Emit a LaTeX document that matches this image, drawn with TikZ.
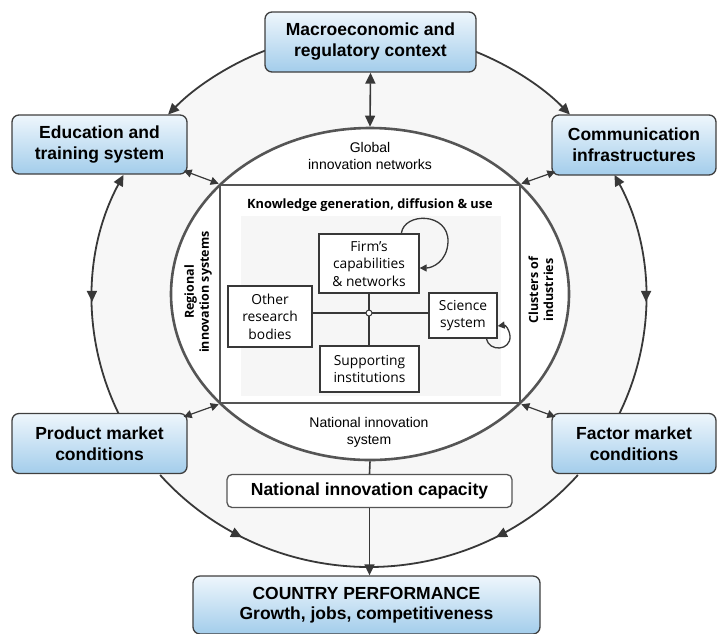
\documentclass[tikz,border=0pt]{standalone}
\usepackage{fontspec}
\setmainfont{Open Sans}
\newfontfamily\boxfont{Liberation Sans}
\usetikzlibrary{arrows.meta,decorations.markings,shapes.geometric}
\definecolor{boxtop}{HTML}{EEF6FC}
\definecolor{boxbot}{HTML}{A3CDEB}
\definecolor{boxline}{HTML}{3F3F3F}
\definecolor{ringc}{HTML}{383838}
\definecolor{framec}{HTML}{555555}
\definecolor{bgc}{HTML}{F7F7F7}
\definecolor{faintc}{HTML}{F6F6F6}
\newcommand\ringarc[3][]{\draw[ringline,#1] ([shift={(#2:277 and 268)}]C) arc[start angle=#2, end angle=#3, x radius=277, y radius=268];}
\begin{document}
\begin{tikzpicture}[x=1pt,y=1pt,
  outerbox/.style={draw=boxline, line width=1.3pt, rounded corners=7pt, top color=boxtop, bottom color=boxbot, align=center, inner sep=0pt, font=\boxfont\bfseries\fontsize{17.5}{21}\selectfont},
  inbox/.style={draw=ringc, line width=1.3pt, fill=white, align=center, inner sep=0pt, font=\fontsize{13.8}{17.5}\selectfont},
  ringline/.style={draw=ringc, line width=1.8pt},
  bigtip/.tip={Triangle[length=11pt,width=10pt]},
  smalltip/.tip={Triangle[length=8pt,width=8pt]},
  midtip/.style={postaction={decorate}, decoration={markings, mark=at position #1 with {\arrow{bigtip}}}},
  label/.style={align=center, inner sep=0pt},
]
\useasboundingbox (0,0) rectangle (717,-633);
\coordinate (C) at (369,-299);
% ring background
\fill[bgc] (C) ellipse[x radius=277, y radius=268];
% ring arcs
\ringarc[-bigtip]{112.05}{136.5}
\ringarc[-bigtip]{67.95}{43.5}
\ringarc[bigtip-, midtip=0.53]{152.4}{205.65}
\ringarc[bigtip-, midtip=0.53]{27.6}{-25.65}
\ringarc[midtip=0.44]{221.05}{270}
\ringarc[midtip=0.44]{-41.05}{-90}
% national innovation system ellipse
\node[ellipse, draw=framec, line width=2.6pt, fill=white, minimum width=398, minimum height=332, inner sep=0pt] (nis) at (370,-294) {};
% knowledge rectangle
\node[rectangle, draw=framec, line width=2.6pt, fill=white, minimum width=300, minimum height=218, inner sep=0pt] (kgd) at (370,-294) {};
\fill[faintc] (241,-216) rectangle (501,-396);
\node[label, font=\bfseries\fontsize{12.8}{15}\selectfont] (kt) at (370,-205) {Knowledge generation, diffusion \& use};
% inner network
\coordinate (jc) at (369,-313);
\node[inbox, minimum width=100, minimum height=59] (firm) at (369,-263.5) {Firm's\\capabilities\\\& networks};
\node[inbox, minimum width=84, minimum height=61] (other) at (270,-316.5) {Other\\research\\bodies};
\node[inbox, minimum width=68, minimum height=45] (sci) at (463,-315.5) {Science\\system};
\node[inbox, minimum width=99, minimum height=46] (supp) at (369.5,-369) {Supporting\\institutions};
\draw[ringc, line width=1.3pt] (other.east |- jc) -- (sci.west |- jc);
\draw[ringc, line width=1.3pt] (firm.south -| jc) -- (supp.north -| jc);
\node[circle, draw=ringc, fill=white, line width=1pt, minimum size=6pt, inner sep=0pt] (jn) at (jc) {};
\draw[ringc, line width=1.3pt, -{Triangle[length=7pt,width=7pt]}] ([xshift=83pt]firm.north west) .. controls (404,-212) and (449,-212) .. (448,-242) .. controls (447,-262) and (432,-268) .. (firm.east |- 0,-268);
\draw[ringc, line width=1.3pt, -{Triangle[length=7pt,width=7pt]}] ([xshift=58pt]sci.south west) .. controls (489,-352) and (511,-351) .. (510,-336) .. controls (509,-328) and (505,-325) .. (sci.east |- 0,-326);
% ring labels
\node[label, rotate=90, font=\bfseries\fontsize{12.5}{15}\selectfont] (reg) at (198,-292) {Regional\\innovation systems};
\node[label, rotate=90, font=\bfseries\fontsize{12.5}{15}\selectfont] (clu) at (541,-290) {Clusters of\\industries};
\node[label, font=\boxfont\fontsize{14}{17}\selectfont] (glob) at (370,-156) {Global\\innovation networks};
\node[label, font=\boxfont\fontsize{14}{17}\selectfont] (nat) at (369,-432) {National innovation\\system};
% outer boxes
\node[outerbox, minimum width=211, minimum height=60] (top) at (370.5,-42) {Macroeconomic and\\regulatory context};
\node[outerbox, minimum width=175, minimum height=59] (edu) at (99.5,-144.5) {Education and\\training system};
\node[outerbox, minimum width=164, minimum height=60] (comm) at (634,-145) {Communication\\infrastructures};
\node[outerbox, minimum width=175, minimum height=60] (prod) at (99.5,-443.5) {Product market\\conditions};
\node[outerbox, minimum width=164, minimum height=60] (fact) at (634,-443.5) {Factor market\\conditions};
\node[outerbox, minimum width=347, minimum height=58] (country) at (366.5,-605) {COUNTRY PERFORMANCE\\[-1pt]Growth, jobs, competitiveness};
\node[draw=framec, line width=1.3pt, rounded corners=5pt, fill=white, minimum width=285, minimum height=33, inner sep=0pt, font=\boxfont\bfseries\fontsize{17.5}{21}\selectfont] (nic) at (369.5,-491) {National innovation capacity};
% connectors
\draw[ringline, bigtip-bigtip, line width=1.6pt] (top.south) -- (nis.north);
\draw[ringline, line width=1.6pt] (nis.south) -- (nic.north);
\draw[ringline, -bigtip, line width=1.6pt] (nic.south) -- (country.north -| nic.south);
\draw[ringc, line width=1.2pt, smalltip-smalltip] ([shift={(-4,4)}]edu.south east) -- (kgd.north west);
\draw[ringc, line width=1.2pt, smalltip-smalltip] ([shift={(4,4)}]comm.south west) -- (kgd.north east);
\draw[ringc, line width=1.2pt, smalltip-smalltip] ([shift={(-4,-4)}]prod.north east) -- (kgd.south west);
\draw[ringc, line width=1.2pt, smalltip-smalltip] ([shift={(4,-4)}]fact.north west) -- (kgd.south east);
\end{tikzpicture}
\end{document}
